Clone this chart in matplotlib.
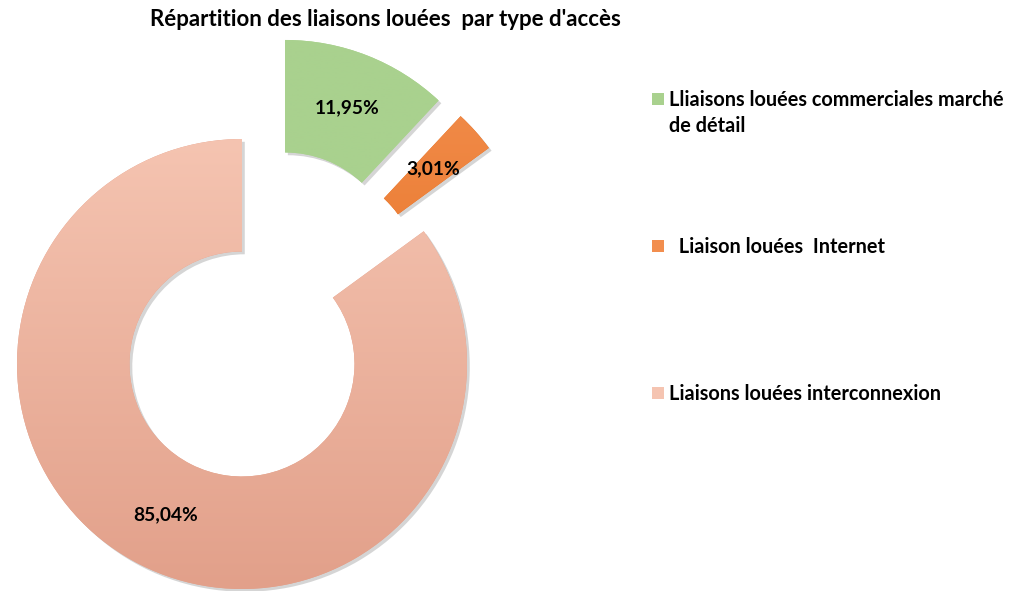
import numpy as np
import matplotlib
matplotlib.use("Agg")
import matplotlib.pyplot as plt
import matplotlib.patheffects as pe
from matplotlib.colors import LinearSegmentedColormap
from matplotlib.patches import Rectangle

plt.rcParams['font.family'] = ['Lato', 'DejaVu Sans']

title = "Répartition des liaisons louées  par type d'accès"
labels = ["Lliaisons louées commerciales marché\nde détail",
          "  Liaison louées  Internet",
          "Liaisons louées interconnexion"]
values = [11.95, 3.01, 85.04]

# gradient colours (top, bottom) per slice
grads = [("#a9d18e", "#a9d18e"),
         ("#f28e4e", "#e46a16"),
         ("#f5c4b1", "#e2a08a")]
# explosion: distance (in radii) and direction in degrees
offsets = [(0.48, 66.5), (0.47, 52.0), (0.0, 0.0)]

R_PX = 225.0
fig = plt.figure(figsize=(10.22, 5.91), dpi=100)
ax = fig.add_axes([0, 0, 1, 1])

wedges, _ = ax.pie(values, startangle=90, counterclock=False, radius=1,
                   colors=[g[1] for g in grads],
                   wedgeprops=dict(width=0.5, linewidth=0))

for w, (d, a), (c1, c2), v in zip(wedges, offsets, grads, values):
    cx = d * np.cos(np.radians(a))
    cy = d * np.sin(np.radians(a))
    w.set_center((cx, cy))
    w.set_path_effects([pe.SimplePatchShadow(offset=(2, -2), shadow_rgbFace='#888888', alpha=0.35),
                        pe.Normal()])
    cmap = LinearSegmentedColormap.from_list("g", [c2, c1])
    grad = np.linspace(0, 1, 256).reshape(-1, 1)
    img = ax.imshow(grad, cmap=cmap, origin='lower', aspect='auto',
                    extent=(cx - 1, cx + 1, cy - 1, cy + 1), zorder=3)
    img.set_clip_path(w)
    mid = np.radians((w.theta1 + w.theta2) / 2)
    r = 0.75
    ax.text(cx + r * np.cos(mid), cy + r * np.sin(mid),
            f"{v:.2f}".replace('.', ',') + '%', ha='center', va='center',
            fontsize=13.8, fontweight='bold', color='black', zorder=5)

ax.set_xlim(-242 / R_PX, (1022 - 242) / R_PX)
ax.set_ylim((364 - 591) / R_PX, 364 / R_PX)
ax.set_aspect('equal')
ax.axis('off')

fig.text(385 / 1022, 1 - 20 / 591, title, ha='center', va='center',
         fontsize=16, fontweight='bold')

# legend drawn by hand to keep the wide spacing
leg_y = [99, 246, 393]
for lab, (c1, c2), y in zip(labels, grads, leg_y):
    fig.patches.append(Rectangle((652 / 1022, 1 - (y + 6) / 591), 12 / 1022, 12 / 591,
                                 transform=fig.transFigure, facecolor=c2 if c1 == c2 else c1,
                                 edgecolor='none'))
    fig.text(669 / 1022, 1 - (y - 9) / 591, lab, ha='left', va='top',
             fontsize=14.3, fontweight='bold', linespacing=1.35)

fig.savefig("out.png", dpi=100)
